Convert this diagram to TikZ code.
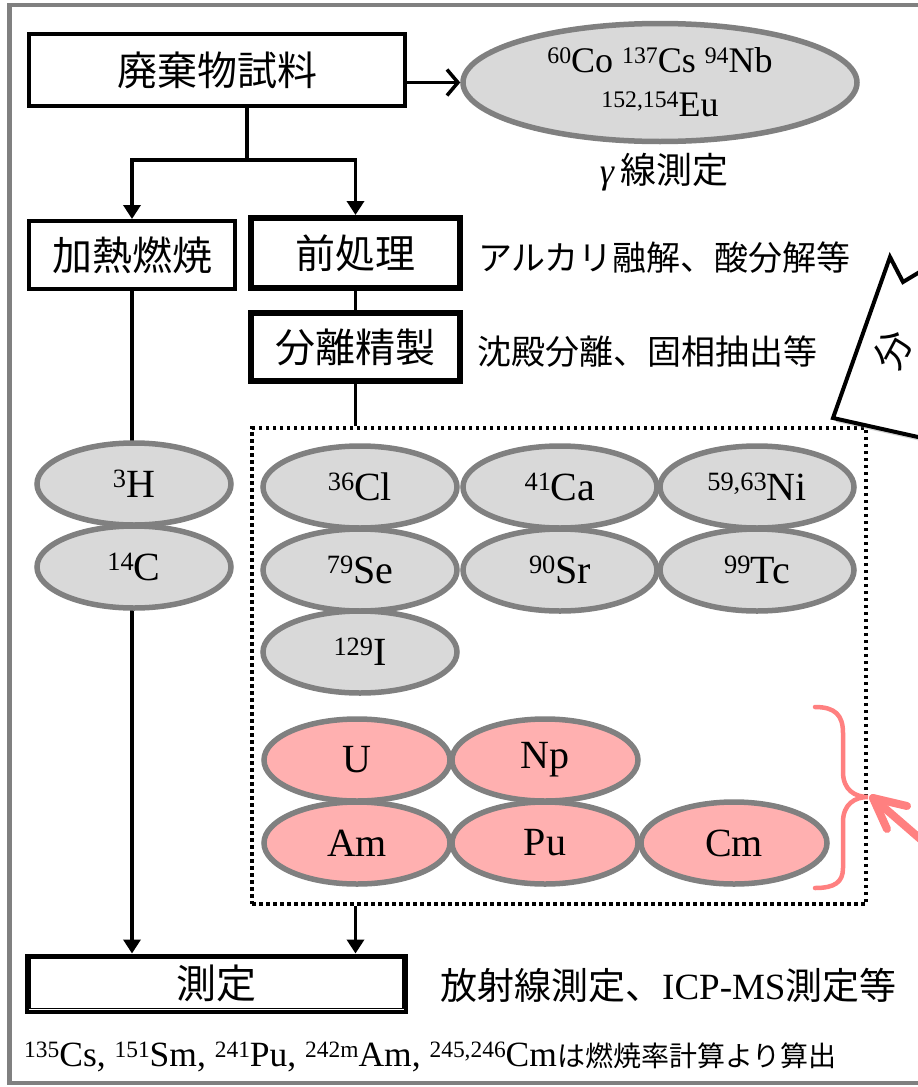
\documentclass[tikz,border=0pt]{standalone}
\usepackage{fontspec}
\setmainfont{Liberation Serif}
\newfontfamily\jp{Noto Sans CJK JP}
\usetikzlibrary{shapes.geometric,arrows.meta,shadows,calc}
\definecolor{isogray}{RGB}{217,217,217}
\definecolor{bordgray}{RGB}{128,128,128}
\definecolor{pinkfill}{RGB}{255,176,176}
\definecolor{pinkline}{RGB}{255,128,128}
\newcommand\isup[1]{\raisebox{0.25em}{\scalebox{0.66}{#1}}}
\begin{document}
\begin{tikzpicture}[x=1pt,y=-1pt,
  stepbox/.style={draw=black, line width=4pt, inner sep=0pt, font=\jp\fontsize{40}{48}\selectfont},
  iso/.style={ellipse, draw=bordgray, fill=isogray, line width=5.5pt, minimum width=194pt, minimum height=82pt, inner sep=0pt, font=\fontsize{40}{48}\selectfont},
  act/.style={iso, fill=pinkfill, minimum width=186pt},
  note/.style={anchor=west, inner sep=0pt, font=\jp\fontsize{34}{40}\selectfont},
  flow/.style={line width=3.5pt},
  flowarr/.style={flow, -{Triangle[length=14pt,width=17pt]}},
  openarr/.style={flow, -{Straight Barb[length=11pt,width=26pt]}},
  inner/.style={line width=1.3pt}
]
\useasboundingbox (0,0) rectangle (918,1087);
\clip (0,0) rectangle (918,1087);
\fill[white] (0,0) rectangle (918,1087);
\draw[bordgray, line width=4.5pt] (9.5,5) rectangle (980,1083);

% boxes
\node[stepbox, minimum width=376pt, minimum height=72pt] (waste) at (217,70) {廃棄物試料};
\node[stepbox, minimum width=206pt, minimum height=68pt] (heat) at (132,255) {加熱燃焼};
\node[stepbox, minimum width=211pt, minimum height=72pt] (pre) at (355.5,253) {前処理};
\draw[inner] ([shift={(5,5)}]pre.north west) rectangle ([shift={(-5,-5)}]pre.south east);
\node[stepbox, minimum width=211pt, minimum height=70pt] (sep) at (355.5,347) {分離精製};
\draw[inner] ([shift={(5,5)}]sep.north west) rectangle ([shift={(-5,-5)}]sep.south east);
\node[stepbox, minimum width=379pt, minimum height=56pt] (meas) at (216.5,983.5) {測定};
\draw[inner] ([shift={(5,5)}]meas.north west) rectangle ([shift={(-5,-5)}]meas.south east);

\node[draw=black, line width=3.5pt, dash pattern=on 3.5pt off 3.5pt, minimum width=614pt, minimum height=476pt, inner sep=0pt] (grp) at (559,666) {};

% gamma ellipse
\node[ellipse, draw=bordgray, fill=isogray, line width=5.5pt, minimum width=394pt, minimum height=118pt, inner sep=0pt,
      align=center, font=\fontsize{36}{44}\selectfont] (gam) at (660,82.5)
      {\isup{60}Co \isup{137}Cs \isup{94}Nb\\\isup{152,154}Eu};
\node[inner sep=0pt, font=\jp\fontsize{36}{42}\selectfont] (gamlbl) at (664,172) {{\rmfamily\itshape γ\,}線測定};

% side notes
\node[note] (prenote) at (478,258) {アルカリ融解、酸分解等};
\node[note] (sepnote) at (477,352) {沈殿分離、固相抽出等};
\node[note, font=\jp\fontsize{37}{42}\selectfont] (measnote) at (440,985) {放射線測定、{\rmfamily ICP-MS}測定等};
\node[anchor=west, inner sep=0pt, font=\fontsize{35.5}{40}\selectfont] (footnote) at (24,1057)
  {\isup{135}Cs, \isup{151}Sm, \isup{241}Pu, \isup{242m}Am, \isup{245,246}Cm{\jp\fontsize{28}{32}\selectfont は燃焼率計算より算出}};

% connectors
\coordinate (split) at (247,160);
\draw[flow] (waste.south -| split) -- (split);
\draw[flowarr] (split) -| (heat.north);
\draw[flowarr] (split) -| (pre.north);
\draw[openarr] (waste.east |- gam.west) -- (gam.west);
\draw[flowarr] (heat.south) -- (heat.south |- meas.north);
\draw[flow] (pre.south) -- (sep.north);
\draw[flow] (sep.south) -- (sep.south |- grp.north);
\draw[flowarr] (grp.south -| sep.south) -- (sep.south |- meas.north);

% isotope ellipses
\node[iso] (h3) at (134,484) {\isup{3}H};
\node[iso] (c14) at (134,567) {\isup{14}C};
\node[iso] (cl) at (360,487) {\isup{36}Cl};
\node[iso] (ca) at (560,487) {\isup{41}Ca};
\node[iso] (ni) at (757,487) {\isup{59,63}Ni};
\node[iso] (se) at (360,570) {\isup{79}Se};
\node[iso] (sr) at (560,570) {\isup{90}Sr};
\node[iso] (tc) at (757,570) {\isup{99}Tc};
\node[iso] (io) at (360,652) {\isup{129}I};
\node[act] (u) at (357,760) {U};
\node[act] (np) at (545,760) {Np};
\node[act] (am) at (357,843) {Am};
\node[act] (pu) at (545,843) {Pu};
\node[act] (cm) at (734,843) {Cm};

% brace and arrow
\coordinate (bracetip) at (868,797);
\draw[pinkline, line width=4.5pt, line cap=round]
  (815,707) .. controls (835,707) and (843,715) .. (843,733) -- (843,772)
  .. controls (843,790) and (855,797) .. (bracetip)
  .. controls (855,797) and (843,804) .. (843,822) -- (843,868)
  .. controls (843,882) and (835,888) .. (815,888);
\coordinate (arrtip) at (873,798);
\coordinate (arrtail) at (940,856);
\draw[pinkline, line width=8pt, line cap=round, line join=round] (arrtail) -- (arrtip);
\draw[pinkline, line width=8pt, line cap=round, line join=round]
  ($(arrtip)+(34,8)$) -- (arrtip) -- ($(arrtip)+(14,31)$);

% callout
\draw[line width=4pt, fill=white, line join=miter,
      drop shadow={shadow xshift=3pt, shadow yshift=-4pt, opacity=0.35}]
  (935,262.8) -- (903,282) -- (890,257) -- (833,418) -- (935,440.8) -- cycle;
\node[rotate=62, inner sep=0pt, font=\jp\fontsize{38}{44}\selectfont] (calltxt) at (893,350) {分};
\end{tikzpicture}
\end{document}
